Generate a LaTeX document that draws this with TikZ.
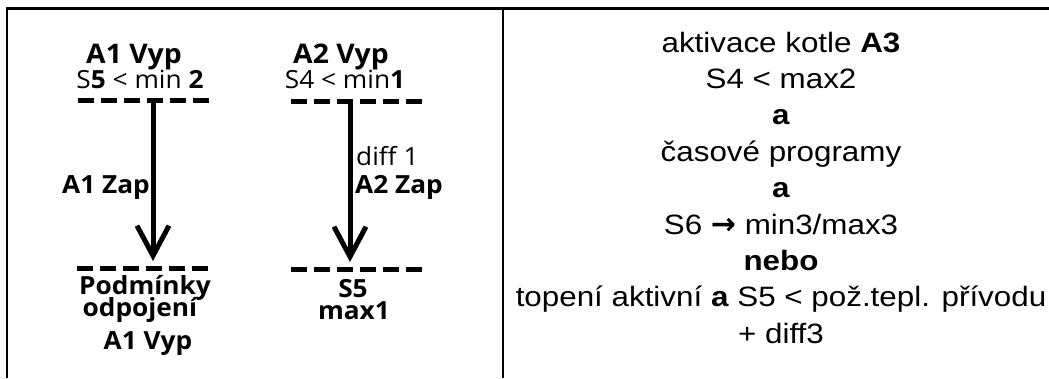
\documentclass[tikz,border=0pt]{standalone}
\usepackage{fontspec}
\usetikzlibrary{arrows.meta}
\newfontfamily\rfont[FakeStretch=1.12]{Liberation Sans}
\newfontfamily\lfont[FakeStretch=1.05]{Open Sans}
\newfontfamily\symfont{DejaVu Sans}
\begin{document}
\begin{tikzpicture}[x=1pt,y=-1pt,
  frame/.style={line width=2.3pt},
  dashln/.style={line width=5pt, dash pattern=on 16pt off 7pt},
  flow/.style={line width=5pt, -{Straight Barb[length=30pt,width=32pt,line width=5pt]}},
  ttl/.style={font=\lfont\bfseries\fontsize{27}{30}\selectfont, inner sep=0pt, anchor=base},
  cond/.style={font=\lfont\fontsize{25}{28}\selectfont, inner sep=0pt, anchor=base},
  ln/.style={font=\lfont\fontsize{25}{28}\selectfont, inner sep=0pt, anchor=base},
  lb/.style={font=\lfont\bfseries\fontsize{25}{28}\selectfont, inner sep=0pt, anchor=base},
  rt/.style={font=\rfont\fontsize{28}{34}\selectfont, inner sep=0pt, anchor=base}]
\useasboundingbox (0,0) rectangle (1049,378);
% frame
\coordinate (tl) at (7,8.5);
\coordinate (tr) at (1049,8.5);
\coordinate (bl) at (7,378);
\coordinate (tm) at (503,8.5);
\coordinate (bm) at (503,378);
\draw[frame] (bl) -- (tl) -- (tr);
\draw[frame] (tm) -- (bm);
% left group
\node[ttl] (a1v) at (134,63) {A1 Vyp};
\node[cond] (a1c) at (140,88) {S\textbf{5} < min \textbf{2}};
\coordinate (d1l) at (78,100);
\coordinate (d1r) at (209,100);
\draw[dashln] (d1l) -- (d1r);
\coordinate (a1s) at (153,103);
\coordinate (a1e) at (153,261);
\draw[flow] (a1s) -- (a1e);
\node[lb, anchor=base east] (a1z) at (150,193) {A1 Zap};
\coordinate (d2l) at (77,268);
\coordinate (d2r) at (209,268);
\draw[dashln] (d2l) -- (d2r);
\node[lb] (pod) at (145,294) {Podmínky};
\node[lb] (odp) at (140,316) {odpojení};
\node[lb] (a1v2) at (148,349) {A1 Vyp};
% right group
\node[ttl] (a2v) at (341,63) {A2 Vyp};
\node[cond] (a2c) at (345,88) {S4 < min\textbf{1}};
\coordinate (d3l) at (291,101);
\coordinate (d3r) at (428,101);
\draw[dashln] (d3l) -- (d3r);
\coordinate (a2s) at (350,104);
\coordinate (a2e) at (350,262);
\draw[flow] (a2s) -- (a2e);
\node[ln, anchor=base west] (dif) at (356,165) {diff 1};
\node[lb, anchor=base west] (a2z) at (355,193) {A2 Zap};
\coordinate (d4l) at (291,269);
\coordinate (d4r) at (429,269);
\draw[dashln] (d4l) -- (d4r);
\node[lb] (s5) at (353,297) {S5};
\node[lb] (mx1) at (354,319) {max1};
% right column
\node[rt] (r1) at (781,52) {aktivace kotle \textbf{A3}};
\node[rt] (r2) at (781,88.4) {S4 < max2};
\node[rt] (r3) at (781,124.8) {\textbf{a}};
\node[rt] (r4) at (781,161.2) {časové programy};
\node[rt] (r5) at (781,197.6) {\textbf{a}};
\node[rt] (r6) at (781,234) {S6 {\symfont\bfseries\fontsize{30}{30}\selectfont →} min3/max3};
\node[rt] (r7) at (781,270.4) {\textbf{nebo}};
\node[rt] (r8) at (781,306.8) {topení aktivní \textbf{a} S5 < pož.tepl. přívodu};
\node[rt] (r9) at (781,343.2) {+ diff3};
\end{tikzpicture}
\end{document}
